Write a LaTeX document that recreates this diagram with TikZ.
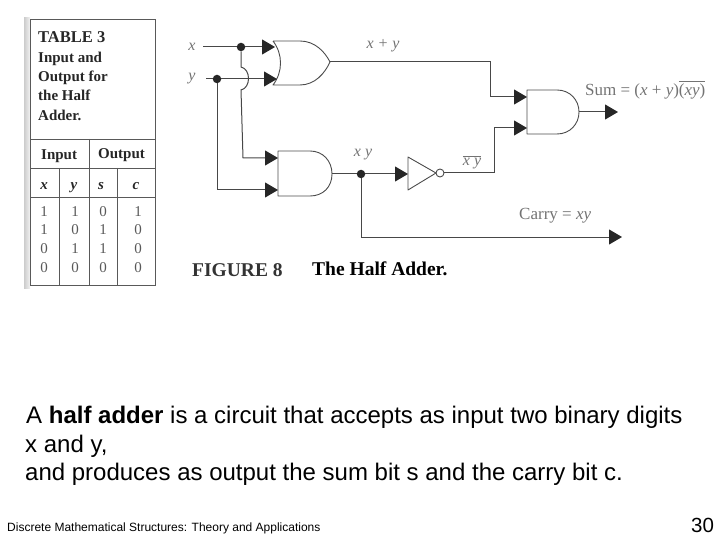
\documentclass[tikz,border=0pt]{standalone}
\usepackage{fontspec}
\usepackage{amsmath}
\setmainfont{Liberation Sans}
\newfontfamily\scanfont{Liberation Serif}
\usetikzlibrary{calc}
\usetikzlibrary{arrows.meta}

\tikzset{
  wire/.style={draw=black!72, line width=1pt},
  tip/.style={wire, -{Triangle[length=13pt,width=15pt,color=black!85]}},
  gate/.style={draw=black!70, line width=0.9pt, line join=round},
  rule/.style={draw=black!65, line width=0.6pt},
  jdot/.style={circle, fill=black!85, inner sep=0pt, minimum size=8.5pt},
  sigtext/.style={text=black!55, font=\scanfont\fontsize{16}{16}\selectfont, inner sep=0pt},
  headtext/.style={text=black!85, anchor=base west, inner sep=0pt, font=\scanfont\bfseries\fontsize{15}{15}\selectfont},
  celltext/.style={text=black!65, anchor=base, inner sep=0pt, font=\scanfont\fontsize{15}{15}\selectfont},
  coltext/.style={text=black!85, anchor=base, inner sep=0pt, font=\scanfont\bfseries\itshape\fontsize{15}{15}\selectfont},
  figtext/.style={text=black!80, anchor=base west, inner sep=0pt, font=\scanfont\bfseries\fontsize{19.5}{19.5}\selectfont},
  slidetext/.style={text=black, anchor=base west, inner sep=0pt, font=\fontsize{24}{24}\selectfont}
}

\begin{document}
\begin{tikzpicture}[x=1pt,y=-1pt]
\useasboundingbox (0,0) rectangle (720,540);

% table
\shade[left color=black!20, right color=black!5] (24,18) rectangle (30,288);
\draw[rule] (30,19) rectangle (155,285);
\draw[rule] (30,139) -- (155,139);
\draw[rule] (30,168) -- (155,168);
\draw[rule] (30,197) -- (155,197);
\draw[rule] (89,139) -- (89,285);
\draw[rule] (59,168) -- (59,285);
\draw[rule] (117,168) -- (117,285);

\node[headtext] (title) at (38,43) {\fontsize{16.5}{16.5}\selectfont TABLE 3};
\node[headtext] (capa) at (38,63) {Input and};
\node[headtext] (capb) at (38,82) {Output for};
\node[headtext] (capc) at (38,101) {the Half};
\node[headtext] (capd) at (38,121) {Adder.};
\node[headtext] (hin) at (41,160) {Input};
\node[headtext] (hout) at (98,159) {Output};

\node[coltext] (cx) at (44,190) {x};
\node[coltext] (cy) at (74,190) {y};
\node[coltext] (cs) at (101,190) {s};
\node[coltext] (cc) at (136,190) {c};

\foreach \yy/\xv/\yv/\sv/\cv in {216/1/1/0/1,235/1/0/1/0,254/0/1/1/0,272/0/0/0/0}{
  \node[celltext] at (44,\yy) {\xv};
  \node[celltext] at (75,\yy) {\yv};
  \node[celltext] at (103,\yy) {\sv};
  \node[celltext] at (138,\yy) {\cv};
}

% pins
\coordinate (orx) at (275,47);
\coordinate (ory) at (277,79);
\coordinate (orout) at (330,62);
\coordinate (andx) at (278,158);
\coordinate (andy) at (278,190);
\coordinate (andout) at (332,174);
\coordinate (notin) at (408,174);
\coordinate (notout) at (444,173);
\coordinate (sumx) at (527,97);
\coordinate (sumy) at (527,128);
\coordinate (sumout) at (579,112);
\coordinate (sumend) at (618,112);
\coordinate (carryend) at (622,237);

% gates
\draw[gate] (273,41) -- (300,41) .. controls (315,41) and (325,52) .. (orout)
  .. controls (325,73) and (315,85) .. (300,85) -- (273,85)
  .. controls (283,72) and (283,54) .. (273,41);
\draw[gate] (278,151) -- (310,151) .. controls (323,151) and (332,161) .. (andout)
  .. controls (332,187) and (323,196) .. (310,196) -- (278,196) -- cycle;
\draw[gate] (527,90) -- (557,90) .. controls (570,90) and (579,100) .. (sumout)
  .. controls (579,124) and (570,134) .. (557,134) -- (527,134) -- cycle;
\draw[gate] (408,157) -- (436,173) -- (408,190) -- cycle;
\draw[gate] (440,173) circle[radius=4];

% wires
\node[sigtext] (xlab) at (192,47) {\itshape x};
\node[sigtext] (ylab) at (192,79) {\itshape y};
\node[jdot] (xdot) at (241,47) {};
\node[jdot] (ydot) at (217,79) {};
\node[jdot] (xydot) at (361,174) {};

\draw[wire] (203,47) -- (xdot);
\draw[tip] (xdot) -- (orx);
\draw[wire] (206,79) -- (ydot);
\draw[tip] (ydot) -- (ory);
\draw[tip] (xdot) -- (241,67) .. controls (251,69) and (251,88) .. (241,90) -- (243,158) -- (andx);
\draw[tip] (ydot) -- (217,190) -- (andy);
\draw[wire] (andout) -- (xydot);
\draw[tip] (xydot) -- (notin);
\draw[tip] (orout) -- (490,62) -- (490,97) -- (sumx);
\draw[tip] (notout) -- (494,173) -- (494,128) -- (sumy);
\draw[tip] (sumout) -- (sumend);
\draw[tip] (xydot) -- (361,237) -- (carryend);

% signal names
\node[sigtext] (orlab) at (383,46) {\itshape x + y};
\node[sigtext] (xylab) at (363,155) {\itshape x y};
\node[sigtext] (nxylab) at (472,162) {$\overline{\text{\itshape x y}}$};
\node[sigtext, anchor=base west, font=\scanfont\fontsize{17}{17}\selectfont] (sumlab) at (585,96) {Sum = ({\itshape x} + {\itshape y})$\overline{\text{({\itshape xy})}}$};
\node[sigtext, anchor=base west, font=\scanfont\fontsize{17}{17}\selectfont] (carrylab) at (519,220) {Carry = {\itshape xy}};

% caption
\node[figtext] (figno) at (192,276) {FIGURE 8};
\node[figtext, text=black] (figname) at (312,275) {The Half Adder.};

% slide text
\node[slidetext] (linea) at (26,423) {A \textbf{half adder} is a circuit that accepts as input two binary digits};
\node[slidetext] (lineb) at (25,452) {x and y,};
\node[slidetext] (linec) at (25,480) {and produces as output the sum bit s and the carry bit c.};
\node[slidetext, font=\fontsize{12}{12}\selectfont] (foot) at (7,531) {Discrete Mathematical Structures: Theory and Applications};
\node[slidetext, font=\fontsize{20.5}{20.5}\selectfont] (pageno) at (691,532) {30};

\end{tikzpicture}
\end{document}
